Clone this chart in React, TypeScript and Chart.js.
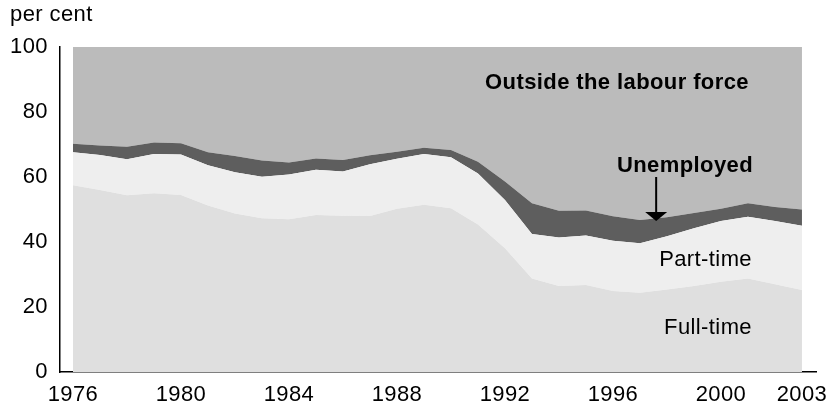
import React, { useEffect, useRef } from "react";
import { Chart, registerables } from "chart.js";

Chart.register(...registerables);

const years = [1976, 1977, 1978, 1979, 1980, 1981, 1982, 1983, 1984, 1985, 1986, 1987, 1988, 1989, 1990, 1991, 1992, 1993, 1994, 1995, 1996, 1997, 1998, 1999, 2000, 2001, 2002, 2003];
const fullTime = [57.5, 56.0, 54.4, 55.0, 54.5, 51.2, 48.8, 47.3, 47.0, 48.3, 48.1, 48.0, 50.2, 51.5, 50.4, 45.4, 38.1, 28.8, 26.5, 26.8, 24.9, 24.4, 25.4, 26.5, 27.8, 28.8, 27.0, 25.2];
const partTime = [10.1, 10.8, 11.1, 12.1, 12.4, 12.4, 12.7, 12.8, 13.8, 13.9, 13.6, 15.9, 15.4, 15.6, 15.7, 15.7, 14.8, 13.7, 14.9, 15.2, 15.5, 15.2, 16.4, 17.7, 18.7, 19.0, 19.5, 19.8];
const unemployed = [2.6, 2.9, 3.8, 3.5, 3.5, 4.0, 5.0, 5.0, 3.7, 3.5, 3.5, 2.8, 2.2, 1.9, 2.2, 3.6, 5.7, 9.4, 8.2, 7.7, 7.5, 7.2, 5.8, 4.7, 3.7, 4.1, 4.3, 5.0];
const outside = [29.8, 30.3, 30.7, 29.4, 29.6, 32.4, 33.5, 34.9, 35.5, 34.3, 34.8, 33.3, 32.2, 31.0, 31.7, 35.3, 41.4, 48.1, 50.4, 50.3, 52.1, 53.2, 52.4, 51.1, 49.8, 48.1, 49.2, 50.0];
const xTicks = [1976, 1980, 1984, 1988, 1992, 1996, 2000, 2003];
const yTicks = [0, 20, 40, 60, 80, 100];

const FONT = "'Liberation Sans', Arial, Helvetica, sans-serif";
const SIZE = 22;

const pts = (vals: number[]) => vals.map((v, i) => ({ x: years[i], y: v }));

const spacingPlugin = {
  id: "spacing",
  beforeDraw(chart: any) {
    (chart.ctx as any).letterSpacing = "0.4px";
  },
};

const annotationPlugin = {
  id: "annotations",
  afterDraw(chart: any) {
    const ctx = chart.ctx;
    const xs = chart.scales.x;
    const ys = chart.scales.y;
    ctx.save();
    (ctx as any).letterSpacing = "0.4px";
    ctx.fillStyle = "#000";
    ctx.textBaseline = "alphabetic";

    ctx.font = `${SIZE}px ${FONT}`;
    ctx.textAlign = "left";
    ctx.fillText("per cent", 10, 21);

    ctx.font = `bold ${SIZE}px ${FONT}`;
    ctx.textAlign = "center";
    ctx.fillText("Outside the labour force", 617, 89);
    ctx.fillText("Unemployed", 685, 172);

    ctx.font = `${SIZE}px ${FONT}`;
    ctx.textAlign = "right";
    ctx.fillText("Part-time", 752, 266);
    ctx.fillText("Full-time", 752, 334);

    // arrow pointing at the unemployed band
    const ax = xs.getPixelForValue(1997.6);
    const tipY = ys.getPixelForValue(46.5);
    ctx.strokeStyle = "#000";
    ctx.lineWidth = 2;
    ctx.beginPath();
    ctx.moveTo(ax, 177);
    ctx.lineTo(ax, tipY - 6);
    ctx.stroke();
    ctx.beginPath();
    ctx.moveTo(ax - 11, tipY - 9);
    ctx.lineTo(ax + 11, tipY - 9);
    ctx.lineTo(ax, tipY);
    ctx.closePath();
    ctx.fill();
    ctx.restore();
  },
};

export default function App() {
  const ref = useRef<HTMLCanvasElement | null>(null);
  useEffect(() => {
    if (!ref.current) return;
    const chart = new Chart(ref.current, {
      type: "line",
      data: {
        datasets: [
          { label: "Full-time", data: pts(fullTime), backgroundColor: "#dfdfdf", fill: "origin" },
          { label: "Part-time", data: pts(partTime), backgroundColor: "#eeeeee", fill: "-1" },
          { label: "Unemployed", data: pts(unemployed), backgroundColor: "#5e5e5e", fill: "-1" },
          { label: "Outside the labour force", data: pts(outside), backgroundColor: "#bbbbbb", fill: "-1" },
        ].map((d) => ({ ...d, borderWidth: 0, borderColor: "rgba(0,0,0,0)", pointRadius: 0, tension: 0 })),
      },
      options: {
        animation: false,
        responsive: false,
        maintainAspectRatio: false,
        devicePixelRatio: 1,
        layout: { padding: { left: 0, top: 47, right: 15, bottom: 0 } },
        plugins: { legend: { display: false }, tooltip: { enabled: false } },
        scales: {
          x: {
            type: "linear",
            min: 1975.52,
            max: 2003.52,
            grid: { display: false, drawTicks: false },
            border: { display: true, color: "#000", width: 1.5 },
            afterBuildTicks: (scale: any) => {
              scale.ticks = xTicks.map((v) => ({ value: v }));
            },
            afterFit: (scale: any) => {
              scale.height = 33;
              scale.paddingLeft = 0;
              scale.paddingRight = 0;
            },
            ticks: {
              autoSkip: false,
              maxRotation: 0,
              padding: 10,
              color: "#000",
              font: { family: FONT, size: SIZE },
              callback: (v: any) => String(v),
            },
          },
          y: {
            stacked: true,
            min: 0,
            max: 100,
            grid: { display: false, drawTicks: false },
            border: { display: true, color: "#000", width: 1.5 },
            afterBuildTicks: (scale: any) => {
              scale.ticks = yTicks.map((v) => ({ value: v }));
            },
            afterFit: (scale: any) => {
              scale.width = 60;
              scale.paddingTop = 0;
              scale.paddingBottom = 0;
            },
            ticks: {
              padding: 12,
              color: "#000",
              font: { family: FONT, size: SIZE },
              callback: (v: any) => String(v),
            },
          },
        },
      },
      plugins: [spacingPlugin, annotationPlugin],
    } as any);
    return () => chart.destroy();
  }, []);
  return (
    <div style={{ position: "fixed", left: 0, top: 0, width: 831, height: 405, background: "#fff" }}>
      <canvas ref={ref} width={831} height={405} style={{ width: 831, height: 405 }} />
    </div>
  );
}
